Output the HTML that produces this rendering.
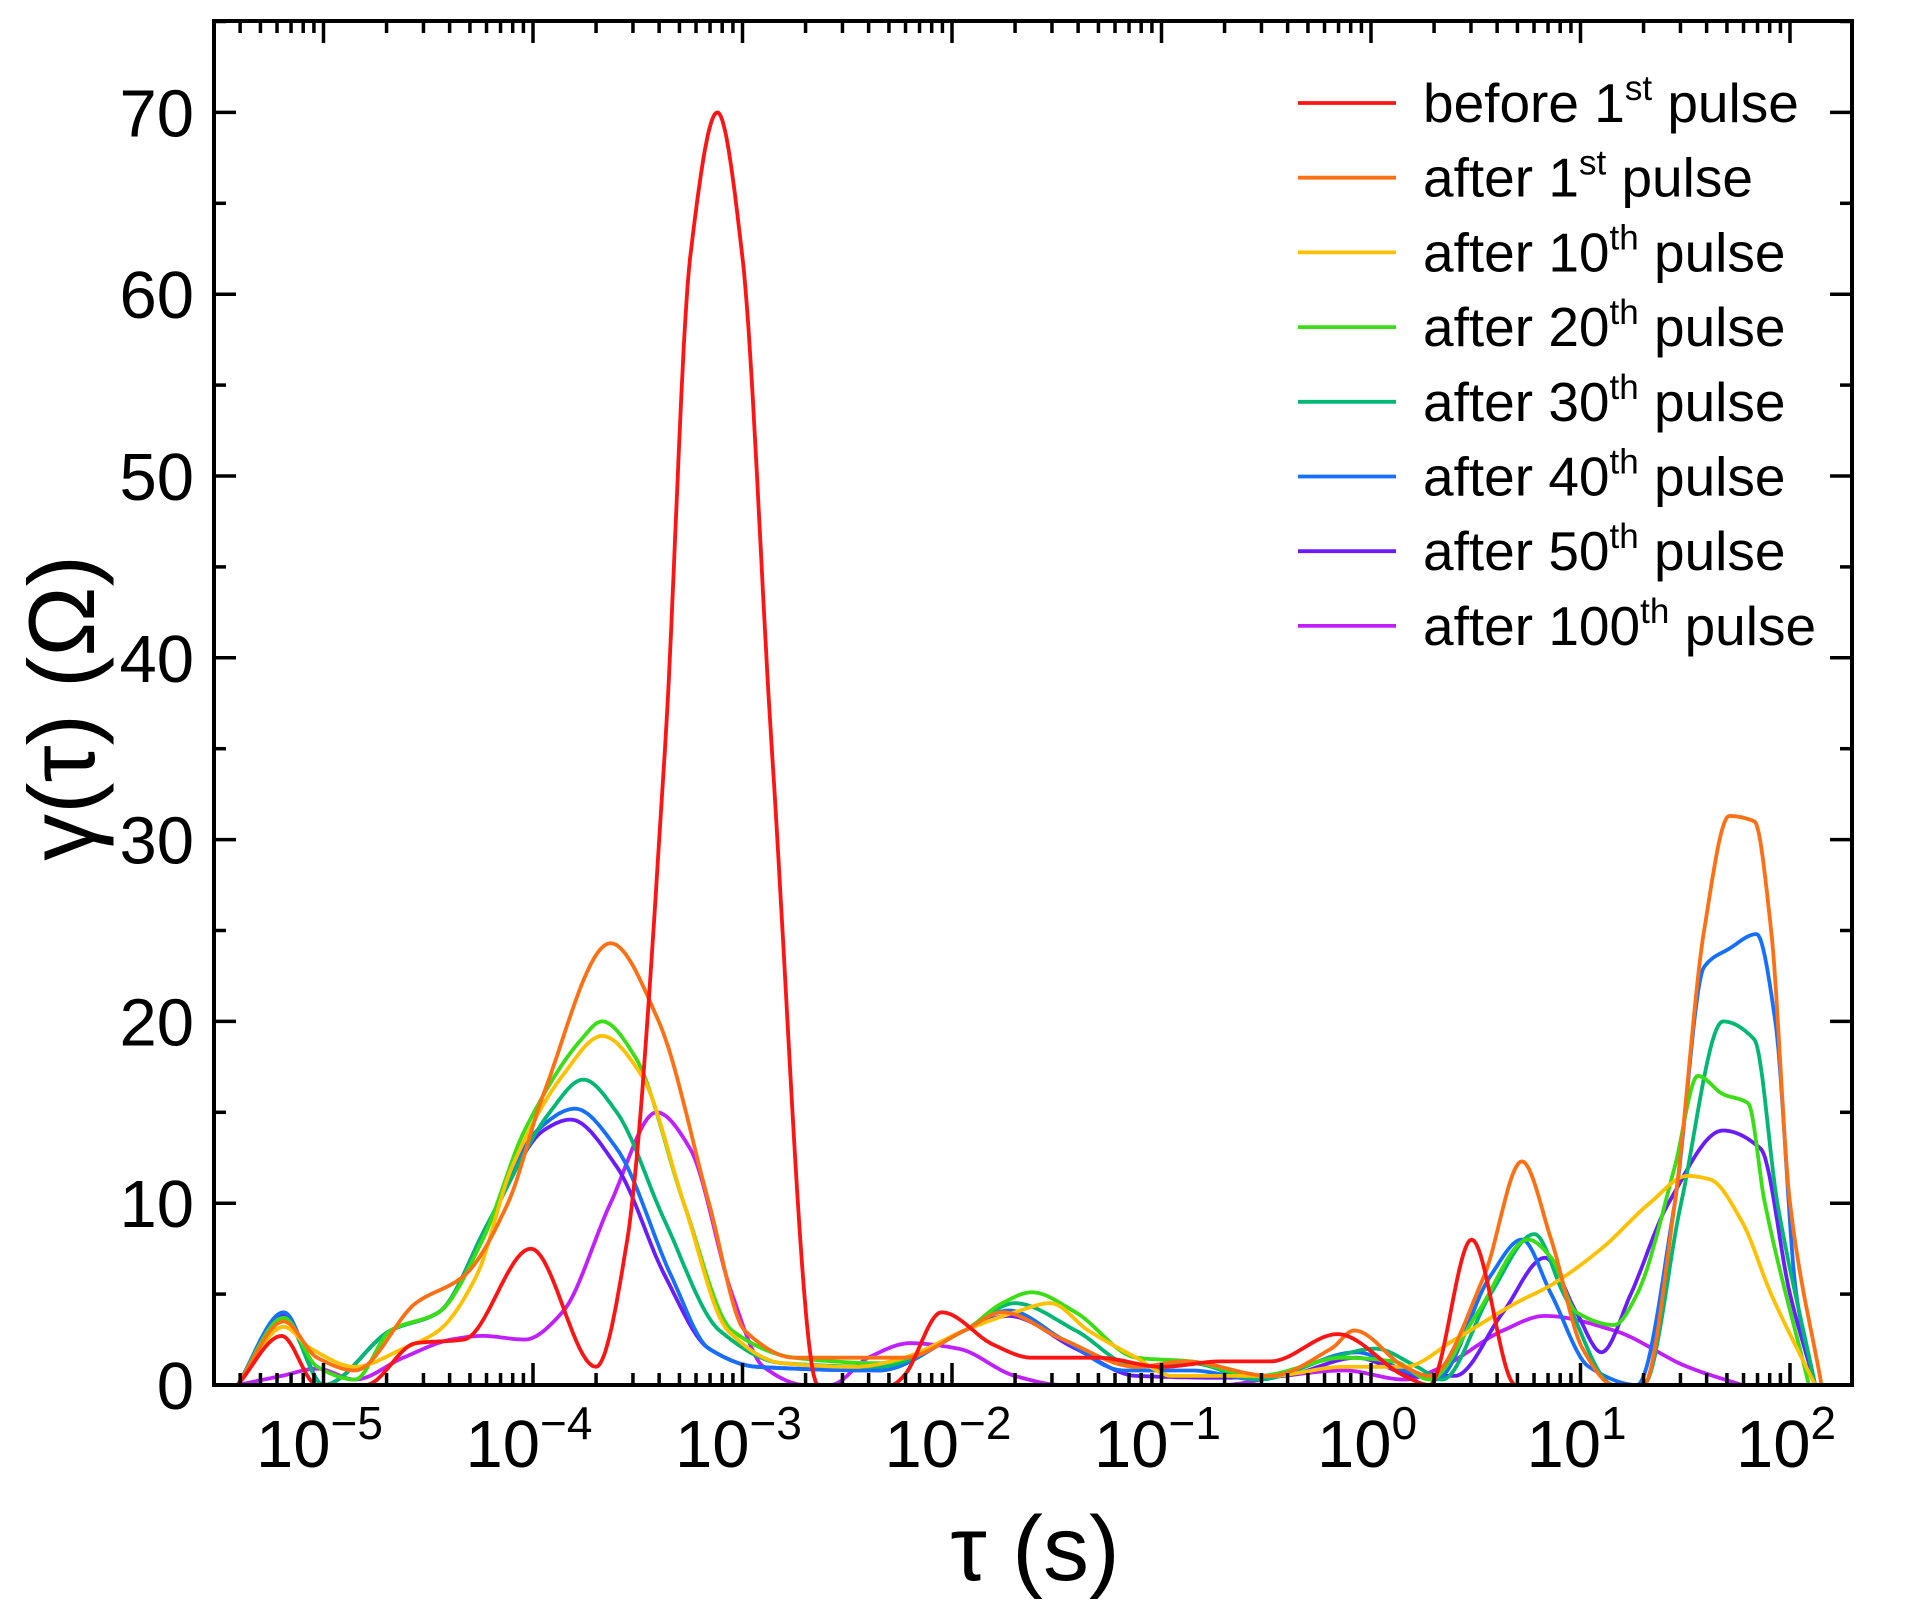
<!DOCTYPE html>
<html><head><meta charset="utf-8"><style>
html,body{margin:0;padding:0;background:#fff;}
svg{display:block;font-family:"Liberation Sans",sans-serif;}
</style></head><body>
<svg id="chart" width="1916" height="1615" viewBox="0 0 1916 1615" xmlns="http://www.w3.org/2000/svg"></svg>
<script>
// ---- data ----
const xTickExps = [-5,-4,-3,-2,-1,0,1,2];
const yTicks = [0,10,20,30,40,50,60,70];
const seriesNames = ["before 1st pulse","after 1st pulse","after 10th pulse","after 20th pulse","after 30th pulse","after 40th pulse","after 50th pulse","after 100th pulse"];
const seriesColors = ["#ff1414","#ff7014","#ffc000","#3ade14","#00b874","#1670ff","#6a1cff","#c020ff"];

const logTauRed = [-5.41,-5.20,-5.03,-4.80,-4.56,-4.33,-4.01,-3.70,-3.55,-3.37,-3.25,-3.12,-3.0,-2.86,-2.64,-2.29,-2.23,-2.05,-1.80,-1.62,-1.30,-1.0,-0.71,-0.48,-0.16,0.16,0.28,0.48,0.69,1.0,2.15];
const valRed    = [0,2.7,0,0,2.3,2.5,7.5,1,8,35,62,70,62,35,0,0,0.5,4,2.2,1.5,1.5,1,1.3,1.3,2.8,0.5,0,8,0,0,0];

const logTauOrange = [-5.41,-5.19,-5.03,-4.85,-4.56,-4.33,-4.12,-3.95,-3.63,-3.40,-3.16,-2.99,-2.75,-2.23,-1.94,-1.76,-1.47,-1.12,-0.89,-0.48,-0.19,-0.08,0.16,0.28,0.54,0.72,0.86,1.01,1.16,1.30,1.45,1.59,1.71,1.83,1.91,2.0,2.15];
const valOrange    = [0,3.5,1.5,0.8,4.5,6,10,16,24.3,20,10,3,1.5,1.5,3,4,2.5,1,1.3,0.5,2,3,1,0.5,6,12.3,8,2,0,0,10,25,31.3,31,25,10,0];

const logTauYellow = [-5.41,-5.19,-5.06,-4.85,-4.62,-4.45,-4.27,-4.10,-3.86,-3.67,-3.48,-3.28,-3.07,-2.81,-2.46,-2.23,-1.94,-1.70,-1.53,-1.35,-1.12,-0.95,-0.48,-0.13,0.16,0.40,0.69,0.86,1.10,1.33,1.51,1.62,1.77,1.91,2.12];
const valYellow    = [0,3.2,2,1,2,3,6,12,17,19.2,17,10,3,1.2,1,1.5,3,4,4.5,3,1.5,0.5,0.5,1,1,2.5,4.5,5.5,7.5,10,11.5,11.3,9,5,0];

const logTauGreen = [-5.41,-5.19,-5.03,-4.85,-4.68,-4.45,-4.24,-4.04,-3.77,-3.67,-3.51,-3.28,-3.05,-2.75,-2.35,-1.94,-1.76,-1.62,-1.41,-1.12,-0.86,-0.54,-0.13,0.11,0.28,0.51,0.75,0.86,0.98,1.16,1.27,1.45,1.56,1.68,1.80,1.88,2.09];
const valGreen    = [0,3.7,1,0.3,3,4,8,14,19,20,18,10,3,1.5,1.2,3,4.5,5.1,4,1.5,1.3,0.5,1.5,1.3,0.3,4,8,7,4,3.3,5,12,17,16,15.5,10,0];

const logTauTeal = [-5.41,-5.19,-5.00,-4.68,-4.45,-4.21,-3.92,-3.76,-3.60,-3.37,-3.11,-2.81,-2.35,-1.94,-1.70,-1.41,-1.12,-0.86,-0.54,-0.19,0.02,0.22,0.34,0.57,0.78,0.92,1.16,1.30,1.48,1.68,1.83,1.94,2.12];
const valTeal    = [0,3.7,0,3,4,9,15,16.8,15,9,3,1.2,1,3,4.5,3,1,1.2,0.3,1.5,2,1,0.3,5,8.3,5,0,0,10,20,19,10,0];

const logTauBlue = [-5.41,-5.19,-5.00,-4.68,-4.45,-4.21,-3.98,-3.80,-3.60,-3.34,-3.16,-2.93,-2.35,-1.94,-1.73,-1.47,-1.18,-0.86,-0.54,-0.07,0.16,0.31,0.57,0.72,0.86,1.04,1.27,1.45,1.59,1.71,1.84,1.93,2.03,2.12];
const valBlue    = [0,4,0,3,4,9,14,15.2,13,6,2,1,0.8,3,4.1,2.5,0.8,0.8,0.3,1.8,0.8,0.3,6,8,5,1,0,10,23,24,24.8,20,5,0];

const logTauPurple = [-5.41,-5.19,-5.00,-4.68,-4.45,-4.21,-3.95,-3.82,-3.60,-3.37,-3.16,-2.93,-2.35,-1.94,-1.73,-1.41,-1.12,-0.71,-0.42,-0.07,0.22,0.40,0.63,0.83,0.98,1.10,1.24,1.42,1.68,1.86,2.00,2.12];
const valPurple    = [0,3.9,0,3,4,9,14,14.6,12,6,2,1,0.8,3,3.8,2,0.5,0.4,0.5,1.5,0.5,0.5,4,7,4,1.8,5,10,14,13,5,0];

const logTauMagenta = [-5.41,-5.20,-5.03,-4.85,-4.62,-4.39,-4.24,-4.04,-3.86,-3.63,-3.41,-3.25,-3.05,-2.90,-2.70,-2.58,-2.40,-2.20,-1.97,-1.70,-1.47,-0.71,-0.42,-0.13,0.16,0.34,0.63,0.83,1.16,1.51,1.77];
const valMagenta    = [0,0.5,0.9,0.3,1.5,2.5,2.7,2.5,4,10,15,13,5,1,0,0,1.5,2.3,2,0.5,0,0,0.5,0.8,0.3,1,3,3.8,3,1,0];

const seriesX = [logTauRed,logTauOrange,logTauYellow,logTauGreen,logTauTeal,logTauBlue,logTauPurple,logTauMagenta];
const seriesY = [valRed,valOrange,valYellow,valGreen,valTeal,valBlue,valPurple,valMagenta];

// ---- layout ----
const PL=214, PR=1852, PT=21, PB=1385;
const X0=1371, DEC=209.5;
const YPU=(PB-112.4)/70;
function xScale(lt){return X0+DEC*lt;}
function yScale(v){return PB-YPU*v;}
const svg=document.getElementById('chart');
const NS='http://www.w3.org/2000/svg';
function mk(tag,attrs,parent){const e=document.createElementNS(NS,tag);for(const k in attrs)e.setAttribute(k,attrs[k]);(parent||svg).appendChild(e);return e;}

// monotone cubic interpolation
function monotone(xs,ys){
  const n=xs.length,d=[],m=new Array(n).fill(0);
  for(let i=0;i<n-1;i++)d.push((ys[i+1]-ys[i])/(xs[i+1]-xs[i]));
  m[0]=d[0];m[n-1]=d[n-2];
  for(let i=1;i<n-1;i++){ if(d[i-1]*d[i]<=0)m[i]=0; else m[i]=2/(1/d[i-1]+1/d[i]); }
  const pts=[];
  for(let i=0;i<n-1;i++){
    const h=xs[i+1]-xs[i];
    for(let s=0;s<20;s++){
      const t=s/20,t2=t*t,t3=t2*t;
      const y=(2*t3-3*t2+1)*ys[i]+(t3-2*t2+t)*h*m[i]+(-2*t3+3*t2)*ys[i+1]+(t3-t2)*h*m[i+1];
      pts.push([xs[i]+t*h,Math.max(0,y)]);
    }
  }
  pts.push([xs[n-1],ys[n-1]]);
  return pts;
}

// series
const gS=mk('g',{});


for(let s=seriesX.length-1;s>=0;s--){
  const pts=monotone(seriesX[s],seriesY[s]);
  const d=pts.map((p,i)=>(i?'L':'M')+xScale(p[0]).toFixed(1)+' '+yScale(p[1]).toFixed(1)).join(' ');
  const p=mk('path',{d:d,fill:'none',stroke:seriesColors[s],'stroke-width':3.8,'stroke-linejoin':'round'},gS);
  
  
}

// frame
const fr=mk('rect',{x:PL,y:PT,width:PR-PL,height:PB-PT,fill:'none',stroke:'#000','stroke-width':4});



// y ticks
const gY=mk('g',{});


for(let v=0;v<=75;v+=5){
  const y=yScale(v),L=(v%10===0)?22:12;
  mk('line',{x1:PL,x2:PL+L,y1:y,y2:y,stroke:'#000','stroke-width':3.5},gY);
  mk('line',{x1:PR,x2:PR-L,y1:y,y2:y,stroke:'#000','stroke-width':3.5},gY);
}
yTicks.forEach(v=>{
  const t=mk('text',{x:PL-20,y:yScale(v)+24,'text-anchor':'end','font-size':67,fill:'#000'},gY);
  t.textContent=v;
  
  
});
// x ticks
const gX=mk('g',{});


for(let e=-6;e<=2;e++){
  for(let k=1;k<10;k++){
    const lt=e+Math.log10(k),x=xScale(lt);
    if(x<PL+2||x>PR-2)continue;
    const L=k===1?22:12;
    mk('line',{x1:x,x2:x,y1:PB,y2:PB-L,stroke:'#000','stroke-width':3.5},gX);
    mk('line',{x1:x,x2:x,y1:PT,y2:PT+L,stroke:'#000','stroke-width':3.5},gX);
  }
}
xTickExps.forEach(e=>{
  const t=mk('text',{x:xScale(e)-4,y:1467,'text-anchor':'middle','font-size':67,fill:'#000'},gX);
  
  
  const a=document.createElementNS(NS,'tspan');a.textContent='10';t.appendChild(a);
  const b=document.createElementNS(NS,'tspan');b.setAttribute('dy','-28');b.setAttribute('font-size','46');
  b.textContent=(e<0?'\u2212':'')+Math.abs(e);t.appendChild(b);
});

// axis titles
const xt=mk('text',{x:1035,y:1580,'text-anchor':'middle','font-size':92,fill:'#000'});
xt.textContent='\u03c4 (s)';


const yt=mk('text',{x:0,y:0,'text-anchor':'middle','font-size':94,fill:'#000',transform:'translate(94,708) rotate(-90)'});
yt.textContent='\u03b3(\u03c4) (\u03a9)';



// legend
const legParts=[["before 1","st"," pulse"],["after 1","st"," pulse"],["after 10","th"," pulse"],["after 20","th"," pulse"],["after 30","th"," pulse"],["after 40","th"," pulse"],["after 50","th"," pulse"],["after 100","th"," pulse"]];
const gL=mk('g',{});


legParts.forEach((p,i)=>{
  const y=103+i*74.7;
  const g=mk('g',{},gL);
  
  
  mk('line',{x1:1298,x2:1396,y1:y,y2:y,stroke:seriesColors[i],'stroke-width':3.8},g);
  const t=mk('text',{x:1423,y:y+19,'font-size':55,fill:'#000'},g);
  const a=document.createElementNS(NS,'tspan');a.textContent=p[0];t.appendChild(a);
  const b=document.createElementNS(NS,'tspan');b.setAttribute('dy','-22');b.setAttribute('font-size','35');b.textContent=p[1];t.appendChild(b);
  const c=document.createElementNS(NS,'tspan');c.setAttribute('dy','22');c.textContent=p[2];t.appendChild(c);
});
</script>
</body></html>
